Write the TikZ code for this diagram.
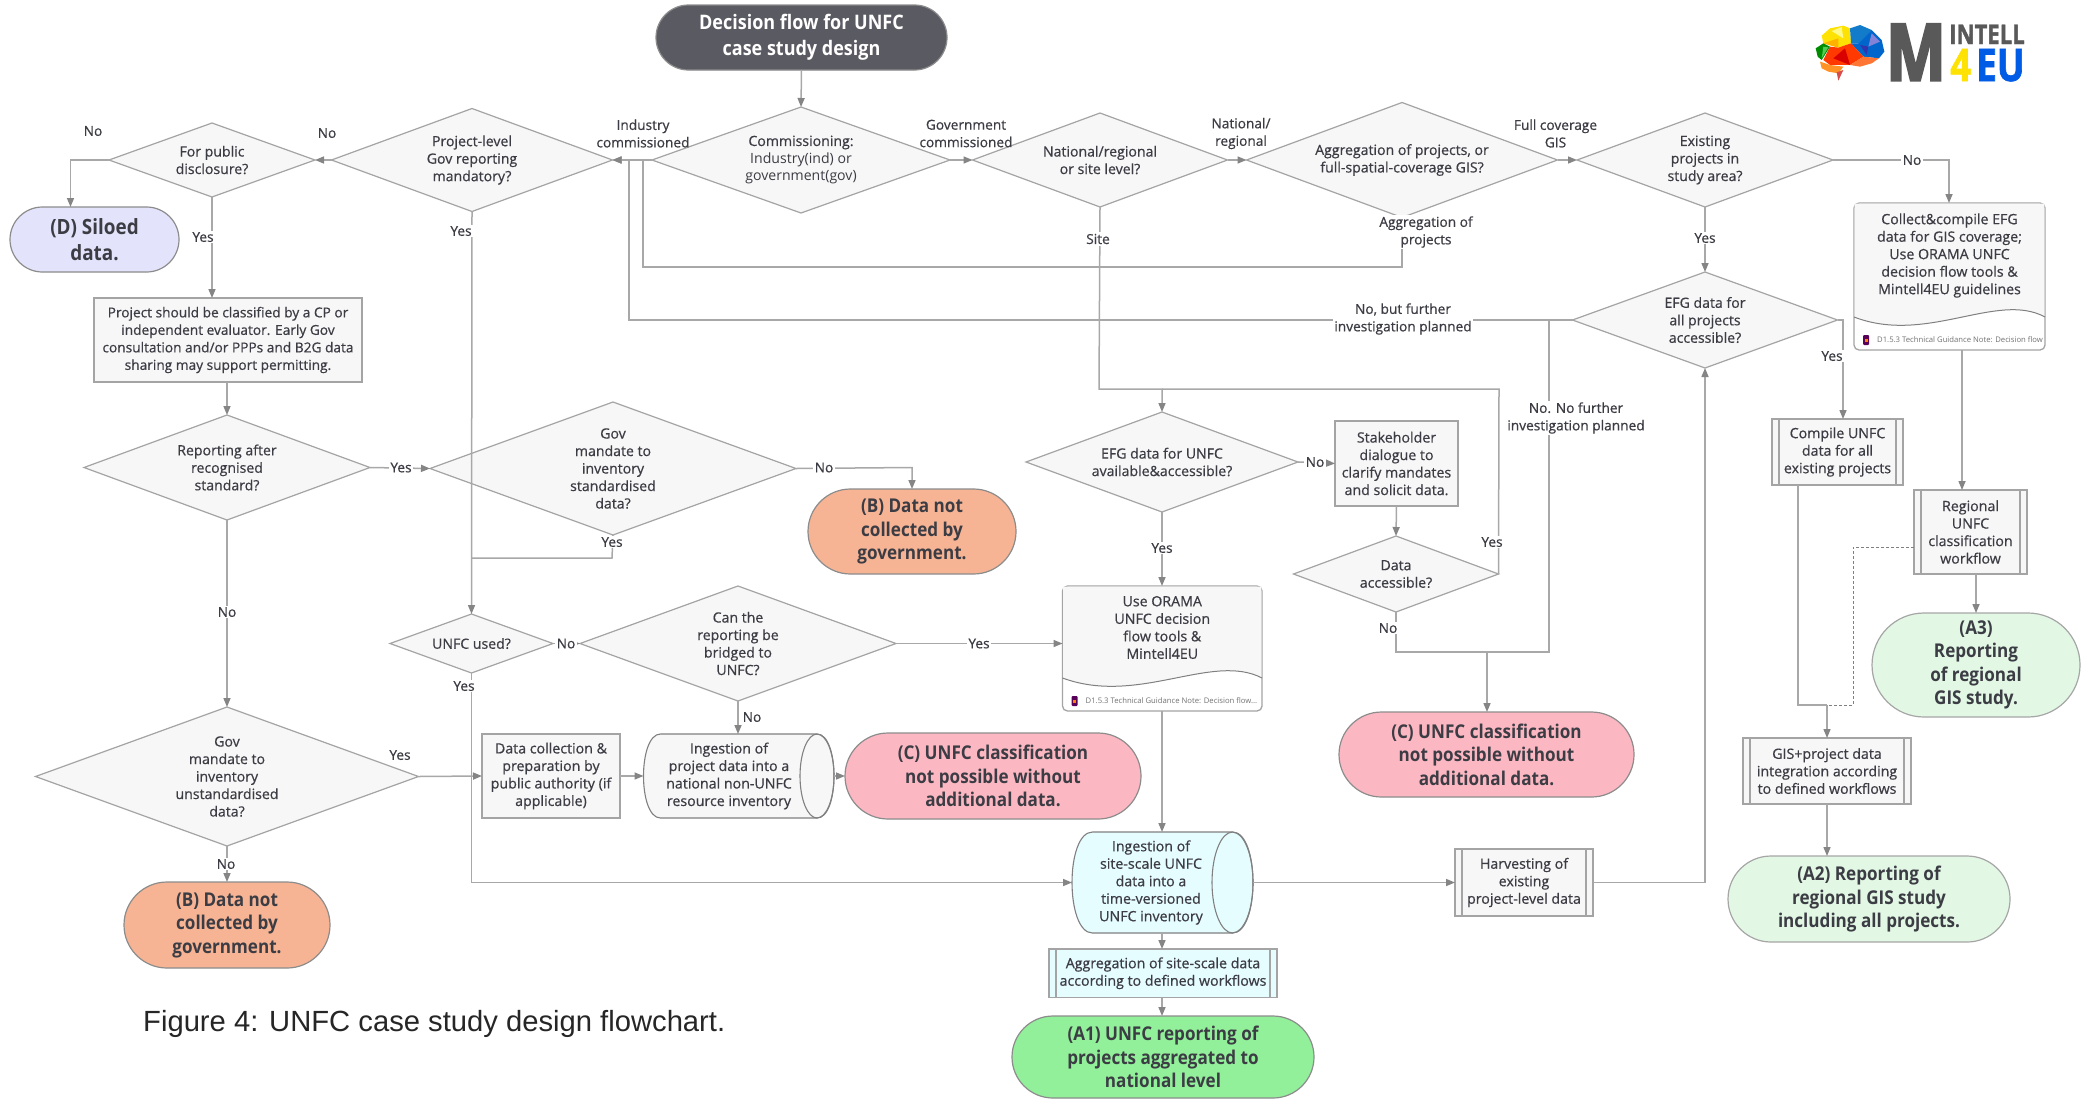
\documentclass[tikz,border=0pt]{standalone}
\usepackage{fontspec}
\usetikzlibrary{shapes.geometric,shapes.misc,arrows.meta,calc}
\setmainfont{Open Sans}
\newfontfamily\semi{Open Sans}[FakeBold=0.6]
\newfontfamily\heavy{Open Sans Bold}[FakeStretch=0.9]
\newfontfamily\logofont{Open Sans Bold}[FakeStretch=0.82,FakeBold=1.5]
\newfontfamily\logoM{Open Sans Bold}[FakeStretch=0.8,FakeBold=3]
\newfontfamily\capfont{Liberation Sans}
\definecolor{ink}{HTML}{3C3C44}
\definecolor{lin}{HTML}{A8A8A8}
\definecolor{edge}{HTML}{A4A4A4}
\definecolor{pale}{HTML}{F7F7F7}
\definecolor{cyanpale}{HTML}{E6FDFF}
\definecolor{startc}{HTML}{5A5A63}
\definecolor{sil}{HTML}{E3E4FB}
\definecolor{bcol}{HTML}{F6B494}
\definecolor{ccol}{HTML}{FCB8C2}
\definecolor{aone}{HTML}{92F09A}
\definecolor{atwo}{HTML}{E2F8E5}
\definecolor{tipc}{HTML}{858585}
\tikzset{
 x=1pt,y=-1pt,
 conn/.style={draw=lin,line width=1.5pt,-{Triangle[width=7pt,length=9pt,color=tipc]}},
 plainline/.style={draw=lin,line width=1.5pt},
 dashline/.style={draw=gray,line width=1pt,densely dashed},
 dia/.style={shape=diamond,draw=edge,fill=pale,line width=1.2pt,inner sep=0pt,outer sep=0pt},
 tx/.style={align=center,text=ink,inner sep=0pt,font=\semi\fontsize{14.1}{17.5}\selectfont},
 pill/.style={shape=rounded rectangle,draw=gray!90,line width=1.2pt,inner sep=0pt,outer sep=0pt,align=center,text=ink,font=\heavy\fontsize{19}{23.5}\selectfont,execute at begin node={\rule{0pt}{21pt}}},
 boxn/.style={shape=rectangle,draw=edge,fill=pale,line width=1.3pt,inner sep=0pt,outer sep=0pt,align=center,text=ink,font=\semi\fontsize{14.2}{17.5}\selectfont},
 anch/.style={shape=rectangle,inner sep=0pt,outer sep=0pt,align=center,text=ink,font=\semi\fontsize{14.2}{17.5}\selectfont},
 lab/.style={align=center,text=ink,fill=white,inner sep=1.5pt,font=\semi\fontsize{13.7}{17.5}\selectfont},
 labn/.style={align=center,text=ink,inner sep=0pt,font=\semi\fontsize{13.7}{17.5}\selectfont},
}
% diamond: name, cx, cy, w, h, text
\newcommand{\dmd}[6]{%
 \pgfmathsetmacro{\asp}{#4/#5}%
 \node[dia,shape aspect=\asp,minimum width=#4pt,minimum height=#5pt] (#1) at (#2,#3) {};
 \node[tx] (#1t) at (#2,#3) {#6};}
% predefined process: name, x1, y1, x2, y2, fill, text
\newcommand{\proc}[7]{%
 \pgfmathsetmacro{\ww}{#4-#2}\pgfmathsetmacro{\hh}{#5-#3}%
 \pgfmathsetmacro{\cx}{(#2+#4)/2}\pgfmathsetmacro{\cy}{(#3+#5)/2}%
 \node[boxn,fill=#6,minimum width=\ww pt,minimum height=\hh pt] (#1) at (\cx,\cy) {#7};
 \draw[edge,line width=1.1pt] ($(#1.north west)+(7pt,0)$) -- ($(#1.south west)+(7pt,0)$);
 \draw[edge,line width=1.1pt] ($(#1.north east)+(-7pt,0)$) -- ($(#1.south east)+(-7pt,0)$);}
% document: name, x1,y1,x2,y2, text, footer
\newcommand{\docn}[7]{%
 \pgfmathsetmacro{\ww}{#4-#2}\pgfmathsetmacro{\hh}{#5-#3}%
 \pgfmathsetmacro{\cx}{(#2+#4)/2}\pgfmathsetmacro{\cy}{(#3+#5)/2}%
 \pgfmathsetmacro{\wy}{#5-33}\pgfmathsetmacro{\ft}{#5-10}\pgfmathsetmacro{\ic}{#2+12}%
 \pgfmathsetmacro{\xa}{#2+0.38*\ww}\pgfmathsetmacro{\xb}{#2+0.75*\ww}%
 \pgfmathsetmacro{\ya}{\wy+28}\pgfmathsetmacro{\yb}{\wy-26}\pgfmathsetmacro{\tc}{\cy-21}%
 \pgfmathsetmacro{\fx}{#2+23}%
 \node[anch,minimum width=\ww pt,minimum height=\hh pt] (#1) at (\cx,\cy) {};
 \draw[edge,line width=1.3pt,rounded corners=5pt,fill=white] (#2,#3) -- (#4,#3) -- (#4,#5) -- (#2,#5) -- cycle;
 \fill[pale] (#2+0.7,#3+0.7) -- (#4-0.7,#3+0.7) -- (#4-0.7,\wy) .. controls (\xb,\yb) and (\xa,\ya) .. (#2+0.7,\wy) -- cycle;
 \draw[gray,line width=1pt] (#4,\wy) .. controls (\xb,\yb) and (\xa,\ya) .. (#2,\wy);
 \node[tx,font=\semi\fontsize{14.2}{17.5}\selectfont] (#1t) at (\cx,\tc) {#6};
 \fill[violet!70!black,rounded corners=1pt] (\ic-3,\ft-5) rectangle (\ic+3,\ft+5);
 \fill[orange] (\ic-1.5,\ft-1) rectangle (\ic+1.5,\ft+2);
 \node[anchor=west,inner sep=0pt,text=gray!90!black,font=\fontsize{7.7}{9}\selectfont] (#1f) at (\fx,\ft) {#7};}
% cylinder: name, x1,y1,x2,y2, rx, fill, text, text centre x
\newcommand{\cyl}[9]{%
 \pgfmathsetmacro{\ww}{#4-#2}\pgfmathsetmacro{\hh}{#5-#3}%
 \pgfmathsetmacro{\cx}{(#2+#4)/2}\pgfmathsetmacro{\cy}{(#3+#5)/2}%
 \pgfmathsetmacro{\ry}{\hh/2}\pgfmathsetmacro{\rc}{#4-#6}\pgfmathsetmacro{\lc}{#2+#6}%
 \pgfmathsetmacro{\rk}{\rc+1.333*#6}\pgfmathsetmacro{\lk}{\lc-1.333*#6}%
 \node[anch,minimum width=\ww pt,minimum height=\hh pt] (#1) at (\cx,\cy) {};
 \draw[gray,line width=1.1pt,fill=#7] (\lc,#3) -- (\rc,#3) .. controls (\rk,#3) and (\rk,#5) .. (\rc,#5) -- (\lc,#5) .. controls (\lk,#5) and (\lk,#3) .. (\lc,#3) -- cycle;
 \draw[gray,line width=1.1pt] (\rc,\cy) ellipse[x radius=#6pt,y radius=\ry pt];
 \node[tx,font=\semi\fontsize{14.2}{17.5}\selectfont] (#1t) at (#9,\cy) {#8};}
\begin{document}
\begin{tikzpicture}
\useasboundingbox (0,0) rectangle (2087,1098);
\fill[white] (0,0) rectangle (2087,1098);

% ---- terminals
\node[pill,fill=startc,text=white,minimum width=291pt,minimum height=65pt,font=\heavy\fontsize{20}{26}\selectfont,execute at begin node={\rule{0pt}{22pt}}] (start) at (801.5,37.5) {Decision flow for UNFC\\case study design};
\node[pill,fill=sil,minimum width=169pt,minimum height=65pt,font=\heavy\fontsize{21}{26}\selectfont,execute at begin node={\rule{0pt}{23pt}}] (siloed) at (94.5,239.5) {(D) Siloed\\data.};
\node[pill,fill=bcol,minimum width=208pt,minimum height=85pt] (bmid) at (912,531.5) {(B) Data not\\collected by\\government.};
\node[pill,fill=bcol,minimum width=206pt,minimum height=86pt] (bleft) at (227,925) {(B) Data not\\collected by\\government.};
\node[pill,fill=ccol,minimum width=296pt,minimum height=86pt] (cleft) at (993,776) {(C) UNFC classification\\not possible without\\additional data.};
\node[pill,fill=ccol,minimum width=295pt,minimum height=85pt] (cright) at (1486.5,754.5) {(C) UNFC classification\\not possible without\\additional data.};
\node[pill,fill=aone,minimum width=302pt,minimum height=82pt] (aone) at (1163,1057) {(A1) UNFC reporting of\\projects aggregated to\\national level};
\node[pill,fill=atwo,minimum width=282pt,minimum height=86pt,draw=gray!70] (atwo) at (1869,899) {(A2) Reporting of\\regional GIS study\\including all projects.};
\node[pill,fill=atwo,minimum width=208pt,minimum height=104pt,draw=gray!70] (athree) at (1976,665) {(A3)\\Reporting\\of regional\\GIS study.};

% ---- decisions
\dmd{comm}{801}{160}{298}{106}{Commissioning:\\{\rmfamily Industry(ind) or}\\{\rmfamily government(gov)}}
\dmd{proj}{472}{160}{281}{103}{Project-level\\Gov reporting\\mandatory?}
\dmd{pub}{212}{160}{206}{74}{For public\\disclosure?}
\dmd{level}{1100}{160}{255}{94}{National/regional\\or site level?}
\dmd{aggr}{1402}{160}{311}{115}{Aggregation of projects, or\\full-spatial-coverage GIS?}
\dmd{exist}{1705}{160}{256}{94}{Existing\\projects in\\study area?}
\dmd{efgall}{1705}{320}{265}{96}{EFG data for\\all projects\\accessible?}
\dmd{report}{227}{467.5}{286}{105}{Reporting after\\recognised\\standard?}
\dmd{govstd}{613}{468.5}{366}{133}{Gov\\mandate to\\inventory\\standardised\\data?}
\dmd{efgunfc}{1162}{462}{272}{100}{EFG data for UNFC\\available\&accessible?}
\dmd{acc}{1396}{574}{205}{76}{Data\\accessible?}
\dmd{used}{471.5}{643.5}{163}{59}{UNFC used?}
\dmd{can}{738}{643.5}{316}{115}{Can the\\reporting be\\bridged to\\UNFC?}
\dmd{govun}{227}{776.5}{383}{139}{Gov\\mandate to\\inventory\\unstandardised\\data?}

% ---- plain boxes
\node[boxn,minimum width=268pt,minimum height=84pt,font=\semi\fontsize{13.7}{17.5}\selectfont] (classify) at (228,340) {Project should be classified by a CP or\\independent evaluator. Early Gov\\consultation and/or PPPs and B2G data\\sharing may support permitting.};
\node[boxn,minimum width=123pt,minimum height=85pt] (stake) at (1396.5,463.5) {Stakeholder\\dialogue to\\clarify mandates\\and solicit data.};
\node[boxn,minimum width=138pt,minimum height=84pt] (collect) at (551,776) {Data collection \&\\preparation by\\public authority (if\\applicable)};

% ---- predefined processes
\proc{compile}{1772}{419}{1903}{485}{pale}{Compile UNFC\\data for all\\existing projects}
\proc{regional}{1914}{490}{2027}{574}{pale}{Regional\\UNFC\\classification\\workflow}
\proc{gispr}{1743}{738}{1911}{804}{pale}{GIS+project data\\integration according\\to defined workflows}
\proc{harvest}{1455}{849}{1593}{916}{pale}{Harvesting of\\existing\\project-level data}
\proc{aggsite}{1049}{949}{1277}{997.5}{cyanpale}{Aggregation of site-scale data\\according to defined workflows}

% ---- documents
\docn{orama}{1062.5}{586}{1262}{711}{Use ORAMA\\UNFC decision\\flow tools \&\\Mintell4EU}{D1.5.3 Technical Guidance Note: Decision flow...}
\docn{gather}{1854}{203}{2045}{350}{Collect\&compile EFG\\data for GIS coverage;\\Use ORAMA UNFC\\decision flow tools \&\\Mintell4EU guidelines}{D1.5.3 Technical Guidance Note: Decision flow}

% ---- cylinders
\cyl{cylp}{643.5}{734}{834}{818}{17}{pale}{Ingestion of\\project data into a\\national non-UNFC\\resource inventory}{729}
\cyl{cyls}{1072}{832}{1253}{933}{20.5}{cyanpale}{Ingestion of\\site-scale UNFC\\data into a\\time-versioned\\UNFC inventory}{1151}

% ---- junction coordinates
\coordinate (jNo) at (70.5,160);
\coordinate (jAg1) at (1402,267);
\coordinate (jAg2) at (643,267);
\coordinate (jAg3) at (643,160);
\coordinate (jEf1) at (629,320);
\coordinate (jEf2) at (629,160);
\coordinate (jNf1) at (1549,320);
\coordinate (jNf2) at (1549,652);
\coordinate (jNa) at (1396,652);
\coordinate (jC) at (1487,652);
\coordinate (jSi1) at (1099,389);
\coordinate (jSi2) at (1162,389);
\coordinate (jAc1) at (1499,389);
\coordinate (jGs1) at (612,558);
\coordinate (jGs2) at (471.5,558);
\coordinate (jUs1) at (471.5,882.5);
\coordinate (jEx) at (1949,160);
\coordinate (jEa1) at (1843,320);
\coordinate (jHa) at (1705,882.5);
\coordinate (jCm) at (1798,705);
\coordinate (jCj) at (1827,705);
\coordinate (jDa) at (1853,705);
\coordinate (jDb) at (1853,547);
\coordinate (jBm) at (912,467.5);
\coordinate (jGr) at (1962,350);

% ---- connectors
\draw[conn] (start.south) -- (comm.north);
\draw[conn] (comm.west) -- (proj.east);
\draw[conn] (comm.east) -- (level.west);
\draw[conn] (level.east) -- (aggr.west);
\draw[conn] (aggr.east) -- (exist.west);
\draw[conn] (proj.west) -- (pub.east);
\draw[conn] (pub.west) -- (jNo) -- (jNo |- siloed.north);
\draw[conn] (pub.south) -- (pub.south |- classify.north);
\draw[conn] (classify.south -| report.north) -- (report.north);
\draw[conn] (report.east) -- (govstd.west);
\draw[conn] (govstd.east) -- (jBm) -- (bmid.north);
\draw[plainline] (aggr.south) -- (jAg1) -- (jAg2) -- (jAg3);
\draw[conn] (efgall.west) -- (jEf1) -- (jEf2) -- (proj.east);
\draw[conn] (proj.south) -- (used.north);
\draw[plainline] (govstd.south) -- (jGs1) -- (jGs2);
\draw[conn] (used.south) -- (jUs1) -- (cyls.west |- jUs1);
\draw[conn] (used.east) -- (can.west);
\draw[conn] (can.east) -- (orama.west |- can.east);
\draw[conn] (can.south) -- (can.south |- cylp.north);
\draw[conn] (report.south) -- (govun.north);
\draw[conn] (govun.east) -- (collect.west);
\draw[conn] (govun.south) -- (bleft.north);
\draw[conn] (collect.east) -- (cylp.west);
\draw[conn] (cylp.east) -- (cleft.west);
\draw[conn] (level.south) -- (jSi1) -- (jSi2) -- (efgunfc.north);
\draw[plainline] (acc.east) -- (jAc1) -- (jSi2);
\draw[conn] (efgunfc.south) -- (orama.north -| efgunfc.south);
\draw[conn] (efgunfc.east) -- (stake.west);
\draw[conn] (stake.south) -- (acc.north);
\draw[plainline] (acc.south) -- (jNa) -- (jNf2) -- (jNf1);
\draw[conn] (jC) -- (cright.north -| jC);
\draw[conn] (orama.south -| jSi2) -- (cyls.north -| jSi2);
\draw[conn] (cyls.east) -- (harvest.west);
\draw[conn] (harvest.east) -- (jHa) -- (efgall.south);
\draw[conn] (cyls.south -| jSi2) -- (aggsite.north -| jSi2);
\draw[conn] (aggsite.south -| jSi2) -- (aone.north -| jSi2);
\draw[conn] (exist.south) -- (efgall.north);
\draw[conn] (exist.east) -- (jEx) -- (jEx |- gather.north);
\draw[conn] (efgall.east) -- (jEa1) -- (jEa1 |- compile.north);
\draw[conn] (jGr) -- (jGr |- regional.north);
\draw[conn] (regional.south -| athree.north) -- (athree.north);
\draw[plainline] (compile.south -| jCm) -- (jCm) -- (jCj);
\draw[conn] (jCj) -- (jCj |- gispr.north);
\draw[dashline] (regional.west |- jDb) -- (jDb) -- (jDa) -- (jCj);
\draw[conn] (jCj |- gispr.south) -- (jCj |- atwo.north);

% ---- connector labels
\node[labn] (l1) at (93,131) {No};
\node[labn] (l2) at (327,133) {No};
\node[lab] (l3) at (203,237) {Yes};
\node[lab] (l4) at (461,231) {Yes};
\node[labn] (l5) at (643,133.5) {Industry\\commissioned};
\node[labn] (l6) at (966,133.5) {Government\\commissioned};
\node[labn] (l7) at (1241,133.5) {National/\\regional};
\node[labn] (l8) at (1555.5,133.5) {Full coverage\\GIS};
\node[lab] (l9) at (1912,160) {No};
\node[lab] (l10) at (1705,238) {Yes};
\node[lab] (l11) at (1426,232) {Aggregation of\\projects};
\node[lab] (l12) at (1098,239) {Site};
\node[lab] (l13) at (1403,319) {No, but further\\investigation planned};
\node[lab] (l14) at (1576,418) {No. No further\\investigation planned};
\node[lab] (l15) at (1832,356) {Yes};
\node[lab] (l16) at (401,467.5) {Yes};
\node[lab] (l17) at (824,467.5) {No};
\node[lab] (l18) at (612,542) {Yes};
\node[lab] (l19) at (227,612) {No};
\node[labn] (l20) at (400,755) {Yes};
\node[lab] (l21) at (226,864) {No};
\node[lab] (l22) at (566,643.5) {No};
\node[lab] (l23) at (752,717) {No};
\node[lab] (l24) at (464,686) {Yes};
\node[lab] (l25) at (979,643.5) {Yes};
\node[lab] (l26) at (1162,548) {Yes};
\node[lab] (l27) at (1315,462) {No};
\node[lab] (l28) at (1492,542) {Yes};
\node[lab] (l29) at (1388,628) {No};

% ---- caption
\node[anchor=west,inner sep=0pt,text=black!85,font=\capfont\fontsize{29.2}{32}\selectfont] (caption) at (143,1024) {Figure 4: UNFC case study design flowchart.};

% ---- logo
\begin{scope}[shift={(1805,15)},x=0.3333pt,y=-0.3333pt]
 \fill[yellow!85!orange] (50,62) -- (75,40) -- (115,32) -- (135,40) -- (138,85) -- (100,98) -- (55,85) -- cycle;
 \fill[yellow!45!white] (80,48) -- (110,36) -- (115,70) -- cycle;
 \fill[orange!60!yellow] (55,85) -- (100,70) -- (100,98) -- cycle;
 \fill[cyan!60!blue] (135,40) -- (165,30) -- (200,45) -- (160,85) -- (138,85) -- cycle;
 \fill[blue!50!cyan!80!black] (200,45) -- (230,75) -- (238,110) -- (222,130) -- (175,125) -- (138,85) -- (160,85) -- cycle;
 \fill[blue!40!white!85!black] (200,55) -- (225,80) -- (190,95) -- cycle;
 \fill[blue!60!black!80] (165,90) -- (190,95) -- (185,120) -- cycle;
 \fill[green!55!black] (32,100) -- (55,85) -- (75,95) -- (50,135) -- (38,125) -- cycle;
 \fill[green!60!white!80!black] (55,95) -- (70,97) -- (50,130) -- cycle;
 \fill[red!55!orange] (75,95) -- (100,98) -- (138,85) -- (175,125) -- (135,150) -- (75,150) -- (55,135) -- cycle;
 \fill[red!85!black] (85,130) -- (120,100) -- (135,150) -- cycle;
 \fill[red!35!orange!80!white] (135,150) -- (175,125) -- (222,130) -- (200,145) -- (165,155) -- cycle;
 \fill[orange!85!white] (45,140) -- (75,150) -- (115,155) -- (100,175) -- (70,170) -- (50,160) -- cycle;
 \fill[red!65!white!85!black] (95,172) -- (115,165) -- (100,197) -- cycle;
\end{scope}
\node[anchor=base west,inner sep=0pt,text=black!65,font=\logoM\fontsize{79}{80}\selectfont] (logoM) at (1886,80.5) {M};
\node[anchor=base west,inner sep=0pt,text=black!65,font=\logofont\fontsize{27}{28}\selectfont] (logoI) at (1949,44) {INTELL};
\node[anchor=base west,inner sep=0pt,text=yellow!85!orange,font=\logofont\fontsize{45}{46}\selectfont] (logo4) at (1950,81) {4};
\node[anchor=base west,inner sep=0pt,text=blue!60!cyan!90!black,font=\logofont\fontsize{45}{46}\selectfont] (logoE) at (1976,81) {EU};
\end{tikzpicture}
\end{document}
